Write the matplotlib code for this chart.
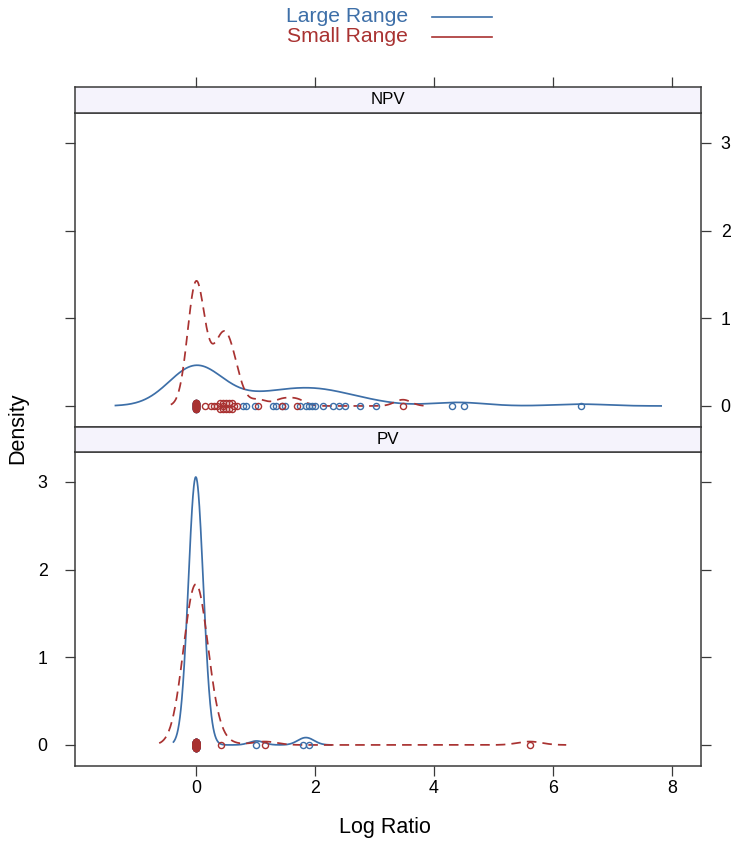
import numpy as np
import matplotlib
matplotlib.use("Agg")
import matplotlib.pyplot as plt

plt.rcParams['font.family'] = ['Liberation Sans', 'DejaVu Sans']

# ---------------- data (sample values of Log Ratio, with counts) ----------------
groups = ["Large Range", "Small Range"]
panels = ["NPV", "PV"]

npv_large_values = [0.0, 0.8, 0.85, 1.0, 1.3, 1.35, 1.45, 1.5, 1.75, 1.85, 1.9, 1.95,
                    2.0, 2.13, 2.3, 2.4, 2.5, 2.76, 3.02, 4.3, 4.5, 6.47]
npv_large_counts = [22, 1, 1, 1, 1, 1, 1, 1, 1, 1, 1, 1,
                    1, 1, 1, 1, 1, 1, 1, 1, 1, 1]
npv_small_values = [0.0, 0.15, 0.25, 0.3, 0.35, 0.4, 0.45, 0.5, 0.55, 0.6, 0.65, 0.7,
                    1.05, 1.45, 1.7, 3.48]
npv_small_counts = [19, 1, 1, 1, 1, 2, 3, 2, 2, 2, 1, 1,
                    1, 1, 1, 1]
pv_large_values = [0.0, 1.02, 1.8, 1.9]
pv_large_counts = [67, 1, 1, 1]
pv_small_values = [0.0, 0.43, 1.16, 5.61]
pv_small_counts = [47, 1, 1, 1]

# kernel bandwidths used for each density
bandwidths = {("NPV", "Large Range"): 0.45, ("NPV", "Small Range"): 0.14,
              ("PV", "Large Range"): 0.125, ("PV", "Small Range"): 0.205}

raw = {
    ("NPV", "Large Range"): (npv_large_values, npv_large_counts),
    ("NPV", "Small Range"): (npv_small_values, npv_small_counts),
    ("PV", "Large Range"): (pv_large_values, pv_large_counts),
    ("PV", "Small Range"): (pv_small_values, pv_small_counts),
}

x_ticks = [0, 2, 4, 6, 8]
y_ticks = [0, 1, 2, 3]
xlim = (-2.03, 8.49)
ylim = (-0.24, 3.34)
jitter_amount = 0.036

colors = {"Large Range": "#3d6fa8", "Small Range": "#a93231"}
styles = {"Large Range": dict(linestyle="-"), "Small Range": dict(linestyle=(0, (5.5, 3.5)))}
frame_col = "#3a3a3a"
strip_col = "#f5f3fc"


def kde(vals, bw, n=512):
    vals = np.asarray(vals, dtype=float)
    grid = np.linspace(vals.min() - 3 * bw, vals.max() + 3 * bw, n)
    z = (grid[:, None] - vals[None, :]) / bw
    dens = np.exp(-0.5 * z ** 2).sum(axis=1) / (len(vals) * bw * np.sqrt(2 * np.pi))
    return grid, dens


W, H = 734, 842
fig = plt.figure(figsize=(W / 100, H / 100), dpi=100)


def fx(px):
    return px / W


def fy(py):
    return 1 - py / H


left, right = 75, 701
layout = {"NPV": (113, 427, 87), "PV": (452, 766, 427)}  # panel top, panel bottom, strip top

tick_len = 7.2
for name in panels:
    ptop, pbot, stop = layout[name]
    ax = fig.add_axes([fx(left), fy(pbot), fx(right) - fx(left), fy(ptop) - fy(pbot)])
    sax = fig.add_axes([fx(left), fy(ptop), fx(right) - fx(left), fy(stop) - fy(ptop)])
    for g in groups:
        v, c = raw[(name, g)]
        vals = np.repeat(v, c)
        xs, ds = kde(vals, bandwidths[(name, g)])
        ax.plot(xs, ds, color=colors[g], lw=1.25, **styles[g], zorder=2)
        # stacked (spread) display of coincident points, like lattice's jitter
        ys = np.concatenate([np.linspace(-jitter_amount, jitter_amount, k) if k > 1 else [0.0]
                             for k in c])
        ax.plot(vals, ys, linestyle="none", marker="o", ms=4.4,
                mfc="none", mec=colors[g], mew=1.0, zorder=3)
    ax.set_xlim(xlim)
    ax.set_ylim(ylim)
    ax.set_xticks(x_ticks)
    ax.set_yticks(y_ticks)
    for sp in ax.spines.values():
        sp.set_color(frame_col)
        sp.set_linewidth(1.1)
    ax.tick_params(direction="out", length=tick_len, width=0.9, color=frame_col,
                   labelsize=12.8, pad=7)
    if name == "NPV":
        ax.tick_params(axis="x", bottom=False, labelbottom=False)
        ax.tick_params(axis="y", left=True, labelleft=False, right=True, labelright=True)
    else:
        ax.tick_params(axis="x", bottom=True, labelbottom=True, pad=3)
        ax.tick_params(axis="y", left=True, labelleft=True, right=True, labelright=False,
                       pad=12.5)

    # strip
    sax.set_facecolor(strip_col)
    sax.set_xlim(xlim)
    sax.set_ylim(0, 1)
    sax.set_yticks([])
    for sp in sax.spines.values():
        sp.set_color(frame_col)
        sp.set_linewidth(1.1)
    if name == "NPV":
        sax.set_xticks(x_ticks)
        sax.tick_params(axis="x", bottom=False, labelbottom=False, top=True, labeltop=False,
                        direction="out", length=tick_len, width=0.9, color=frame_col)
    else:
        sax.set_xticks([])
    sax.text(0.5, 0.5, name, transform=sax.transAxes, ha="center", va="center",
             fontsize=12.2)

# axis labels
fig.text(fx(385), fy(828), "Log Ratio", ha="center", va="center", fontsize=15.5)
fig.text(fx(18), fy(428), "Density", ha="center", va="center", fontsize=15.5, rotation=90)

# legend
leg_y = {"Large Range": 17, "Small Range": 37}
for g in groups:
    fig.text(fx(408), fy(leg_y[g]), g, ha="right", va="center", fontsize=15.2,
             color=colors[g])
    fig.add_artist(matplotlib.lines.Line2D([fx(432), fx(492)], [fy(leg_y[g]), fy(leg_y[g])],
                                           color=colors[g], lw=1.2))

fig.savefig("out.png", dpi=100)
